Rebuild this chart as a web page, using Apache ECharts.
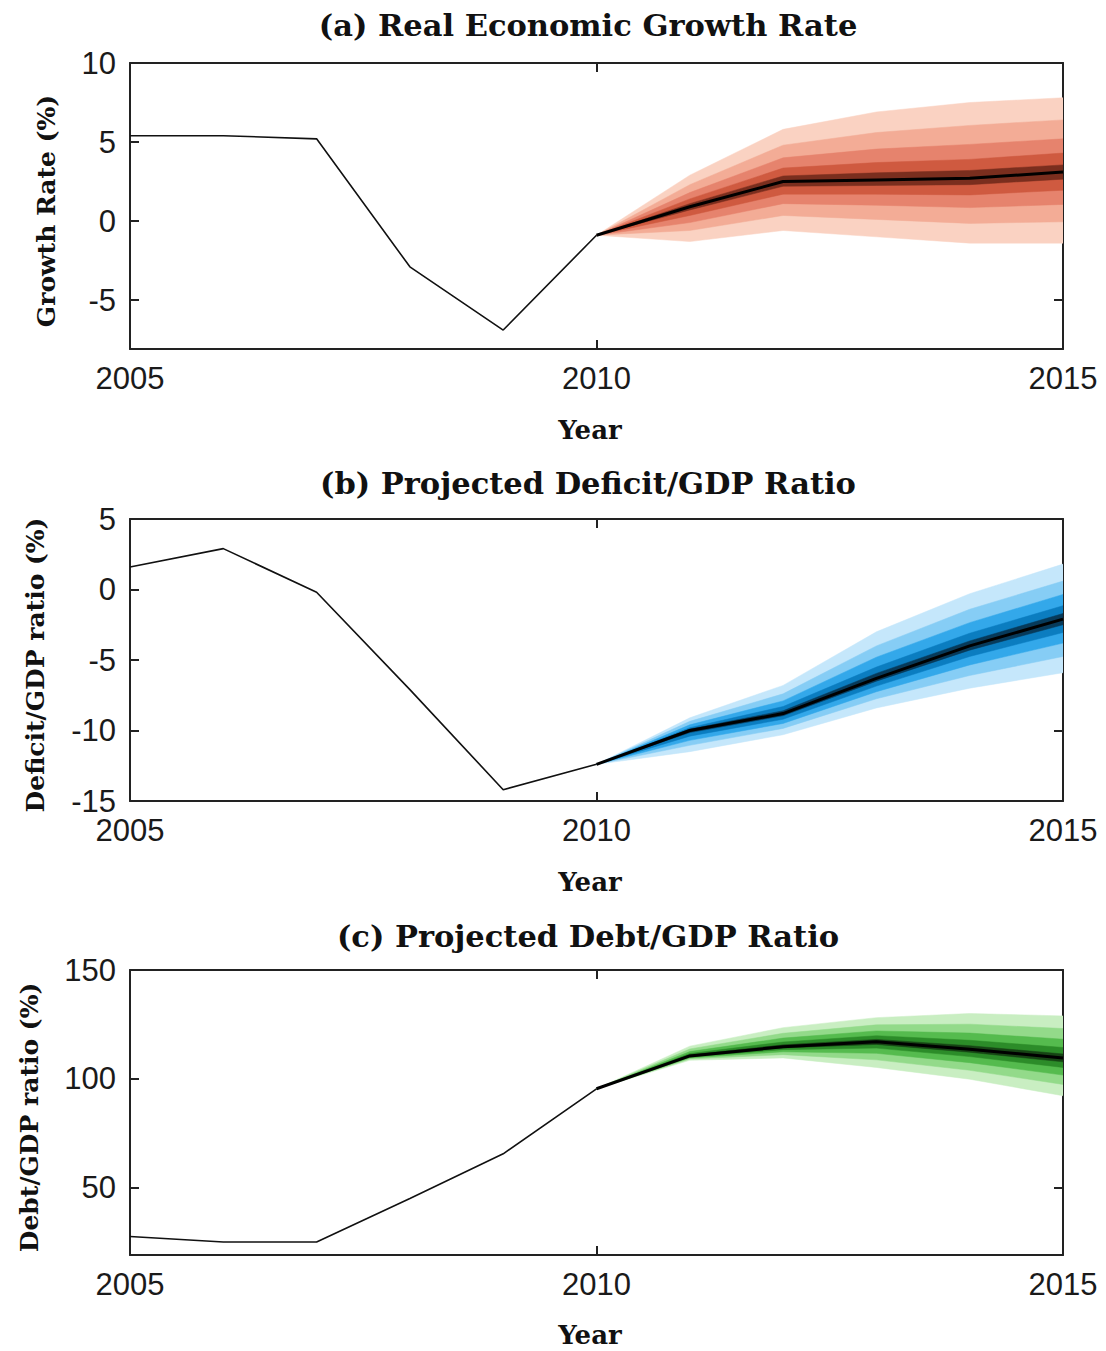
<!DOCTYPE html>
<html>
<head>
<meta charset="utf-8">
<title>Fiscal projections</title>
<script src="https://cdn.jsdelivr.net/npm/echarts@6/dist/echarts.min.js"></script>
<style>
  html, body { margin: 0; padding: 0; background: #ffffff; }
  #chart { width: 1106px; height: 1351px; }
</style>
</head>
<body>
<div id="chart"></div>
<script>
// ---- Observed history (2005-2010) ----
const histYears = [2005, 2006, 2007, 2008, 2009, 2010];
const growthHist = [5.4, 5.4, 5.2, -2.9, -6.9, -0.9];
const deficitHist = [1.6, 2.9, -0.2, -7.1, -14.2, -12.4];
const debtHist = [27.5, 25.0, 25.0, 45.0, 65.5, 95.4];

// ---- Projection fans (2010-2015): median and quantile bands ----
const fanYears = [2010, 2011, 2012, 2013, 2014, 2015];

const growthMedian = [-0.9, 0.9, 2.5, 2.6, 2.7, 3.1];
const growthQ05 = [-0.9, -1.3, -0.6, -1.0, -1.4, -1.4];
const growthQ95 = [-0.9, 2.9, 5.8, 6.9, 7.5, 7.8];
const growthQ10 = [-0.9, -0.6, 0.35, 0.1, -0.15, -0.05];
const growthQ90 = [-0.9, 2.3, 4.8, 5.6, 6.05, 6.4];
const growthQ20 = [-0.9, -0.1, 1.1, 1.0, 0.85, 1.05];
const growthQ80 = [-0.9, 1.8, 4.0, 4.55, 4.85, 5.2];
const growthQ30 = [-0.9, 0.35, 1.7, 1.7, 1.65, 1.95];
const growthQ70 = [-0.9, 1.4, 3.35, 3.7, 3.9, 4.3];
const growthQ40 = [-0.9, 0.7, 2.2, 2.25, 2.3, 2.65];
const growthQ60 = [-0.9, 1.1, 2.85, 3.05, 3.2, 3.55];

const deficitMedian = [-12.4, -10.0, -8.8, -6.3, -4.0, -2.1];
const deficitQ05 = [-12.4, -11.5, -10.3, -8.4, -7.0, -5.9];
const deficitQ95 = [-12.4, -9.1, -6.8, -3.0, -0.3, 1.8];
const deficitQ10 = [-12.4, -11.05, -9.85, -7.75, -6.1, -4.75];
const deficitQ90 = [-12.4, -9.35, -7.4, -4.0, -1.4, 0.6];
const deficitQ20 = [-12.4, -10.7, -9.5, -7.25, -5.35, -3.8];
const deficitQ80 = [-12.4, -9.6, -7.9, -4.8, -2.35, -0.35];
const deficitQ30 = [-12.4, -10.4, -9.2, -6.85, -4.75, -3.05];
const deficitQ70 = [-12.4, -9.8, -8.3, -5.5, -3.1, -1.15];
const deficitQ40 = [-12.4, -10.15, -8.95, -6.5, -4.3, -2.5];
const deficitQ60 = [-12.4, -9.9, -8.6, -5.95, -3.65, -1.7];

const debtMedian = [95.4, 110.5, 114.7, 117.0, 113.6, 109.5];
const debtQ05 = [95.4, 108.5, 109.6, 105.2, 99.8, 92.2];
const debtQ95 = [95.4, 115.0, 123.5, 128.1, 130.0, 128.9];
const debtQ10 = [95.4, 109.1, 111.1, 108.7, 103.9, 97.4];
const debtQ90 = [95.4, 113.7, 120.9, 124.8, 125.1, 123.1];
const debtQ20 = [95.4, 109.6, 112.4, 111.7, 107.4, 101.7];
const debtQ80 = [95.4, 112.5, 118.7, 122.0, 121.0, 118.2];
const debtQ30 = [95.4, 110.0, 113.4, 114.1, 110.2, 105.2];
const debtQ70 = [95.4, 111.6, 116.9, 119.8, 117.7, 114.4];
const debtQ40 = [95.4, 110.3, 114.2, 115.8, 112.2, 107.8];
const debtQ60 = [95.4, 111.0, 115.6, 118.1, 115.2, 111.4];

// ---- Axis ticks ----
const xTicks = [2005, 2010, 2015];
const growthTicks = [-5, 0, 5, 10];
const deficitTicks = [-15, -10, -5, 0, 5];
const debtTicks = [50, 100, 150];

// ---- Texts ----
const panelTitles = ['(a) Real Economic Growth Rate', '(b) Projected Deficit/GDP Ratio', '(c) Projected Debt/GDP Ratio'];
const yNames = ['Growth Rate (%)', 'Deficit/GDP ratio (%)', 'Debt/GDP ratio (%)'];
const xName = 'Year';

// Band shades, outermost (lightest) to innermost (darkest)
const redShades = ['#fad2c2', '#f3ac96', '#e6836d', '#cf5a40', '#7a2e1e'];
const blueShades = ['#c5e7fb', '#86cdf5', '#33a8ea', '#0b7dc0', '#073a5a'];
const greenShades = ['#c9eec2', '#93da8a', '#55bb4e', '#2c8c29', '#164414'];

const panels = [
  {
    hist: growthHist, median: growthMedian, shades: redShades,
    bands: [[growthQ05, growthQ95], [growthQ10, growthQ90], [growthQ20, growthQ80], [growthQ30, growthQ70], [growthQ40, growthQ60]],
    yMin: -8.1, yMax: 10, ticks: growthTicks,
    grid: { left: 130, top: 63, width: 933, height: 286 },
    titleY: 25, xNameY: 430, yNameX: 46
  },
  {
    hist: deficitHist, median: deficitMedian, shades: blueShades,
    bands: [[deficitQ05, deficitQ95], [deficitQ10, deficitQ90], [deficitQ20, deficitQ80], [deficitQ30, deficitQ70], [deficitQ40, deficitQ60]],
    yMin: -15, yMax: 5, ticks: deficitTicks,
    grid: { left: 130, top: 519, width: 933, height: 282 },
    titleY: 483, xNameY: 882, yNameX: 35
  },
  {
    hist: debtHist, median: debtMedian, shades: greenShades,
    bands: [[debtQ05, debtQ95], [debtQ10, debtQ90], [debtQ20, debtQ80], [debtQ30, debtQ70], [debtQ40, debtQ60]],
    yMin: 19, yMax: 150, ticks: debtTicks,
    grid: { left: 130, top: 970, width: 933, height: 285 },
    titleY: 936, xNameY: 1335, yNameX: 29
  }
];

const frame = { color: '#222222', width: 2 };
const tickFont = { fontFamily: '"Liberation Sans", Arial, sans-serif', fontSize: 31, color: '#1a1a1a' };
const serifBold = '"DejaVu Serif", "Liberation Serif", serif';
const plainNumber = (v) => String(v);

const grids = [], xAxes = [], yAxes = [], series = [], graphics = [];

panels.forEach((p, i) => {
  grids.push(Object.assign({ containLabel: false }, p.grid));

  const xBase = {
    gridIndex: i, type: 'value', min: 2005, max: 2015,
    axisLine: { show: true, onZero: false, lineStyle: frame },
    axisTick: { show: true, inside: true, length: 9, lineStyle: frame, customValues: xTicks },
    splitLine: { show: false }
  };
  xAxes.push(Object.assign({}, xBase, {
    position: 'bottom',
    axisLabel: Object.assign({ show: true, margin: 14, customValues: xTicks, formatter: plainNumber }, tickFont)
  }));
  xAxes.push(Object.assign({}, xBase, { position: 'top', axisLabel: { show: false } }));

  const yBase = {
    gridIndex: i, type: 'value', min: p.yMin, max: p.yMax,
    axisLine: { show: true, onZero: false, lineStyle: frame },
    axisTick: { show: true, inside: true, length: 9, lineStyle: frame, customValues: p.ticks },
    splitLine: { show: false }
  };
  yAxes.push(Object.assign({}, yBase, {
    position: 'left',
    axisLabel: Object.assign({ show: true, margin: 14, customValues: p.ticks, formatter: plainNumber }, tickFont)
  }));
  yAxes.push(Object.assign({}, yBase, { position: 'right', axisLabel: { show: false } }));

  // Quantile fan: one polygon per band, drawn from the outside in
  series.push({
    type: 'custom',
    xAxisIndex: 2 * i, yAxisIndex: 2 * i,
    clip: true,
    silent: true,
    z: 2,
    data: p.bands.map((b) => [fanYears[fanYears.length - 1], b[1][b[1].length - 1]]),
    renderItem: function (params, api) {
      const band = p.bands[params.dataIndex];
      const pts = [];
      for (let j = 0; j < fanYears.length; j++) pts.push(api.coord([fanYears[j], band[1][j]]));
      for (let j = fanYears.length - 1; j >= 0; j--) pts.push(api.coord([fanYears[j], band[0][j]]));
      const c = p.shades[params.dataIndex];
      return { type: 'polygon', shape: { points: pts }, style: { fill: c, stroke: c, lineWidth: 0.5 } };
    }
  });

  // Projected median
  series.push({
    type: 'line',
    xAxisIndex: 2 * i, yAxisIndex: 2 * i,
    data: fanYears.map((yr, j) => [yr, p.median[j]]),
    symbol: 'none', z: 3,
    lineStyle: { color: '#000000', width: 3 }
  });

  // Observed history
  series.push({
    type: 'line',
    xAxisIndex: 2 * i, yAxisIndex: 2 * i,
    data: histYears.map((yr, j) => [yr, p.hist[j]]),
    symbol: 'none', z: 3,
    lineStyle: { color: '#111111', width: 1.6 }
  });

  graphics.push({
    type: 'text', x: 588, y: p.titleY,
    style: { text: panelTitles[i], fontFamily: serifBold, fontWeight: 'bold', fontSize: 30.5, fill: '#111',
             align: 'center', verticalAlign: 'middle', textAlign: 'center', textVerticalAlign: 'middle' }
  });
  graphics.push({
    type: 'text', x: 590, y: p.xNameY,
    style: { text: xName, fontFamily: serifBold, fontWeight: 'bold', fontSize: 26, fill: '#111',
             align: 'center', verticalAlign: 'middle', textAlign: 'center', textVerticalAlign: 'middle' }
  });
  graphics.push({
    type: 'text', x: p.yNameX, y: p.grid.top + p.grid.height / 2 + 5, rotation: Math.PI / 2,
    style: { text: yNames[i], fontFamily: serifBold, fontWeight: 'bold', fontSize: 25, fill: '#111',
             align: 'center', verticalAlign: 'middle', textAlign: 'center', textVerticalAlign: 'middle' }
  });
});

const chart = echarts.init(document.getElementById('chart'), null, { renderer: 'svg', width: 1106, height: 1351 });
chart.setOption({
  animation: false,
  backgroundColor: '#ffffff',
  grid: grids,
  xAxis: xAxes,
  yAxis: yAxes,
  series: series,
  graphic: graphics
});
</script>
</body>
</html>
